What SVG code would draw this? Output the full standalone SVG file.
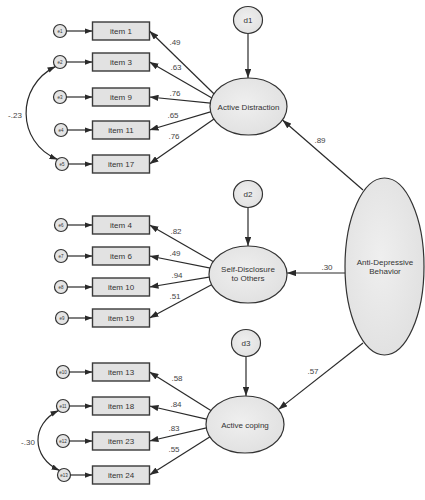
<svg xmlns="http://www.w3.org/2000/svg" width="425" height="500" viewBox="0 0 425 500">
<defs>
<marker id="ah" viewBox="0 0 10 7" refX="10" refY="3.5" markerWidth="9" markerHeight="6.5" markerUnits="userSpaceOnUse" orient="auto-start-reverse">
<path d="M0,0 L10,3.5 L0,7 z" fill="#2a2a2a"/>
</marker>
<marker id="ahs" viewBox="0 0 10 7" refX="10" refY="3.5" markerWidth="8" markerHeight="5.5" markerUnits="userSpaceOnUse" orient="auto-start-reverse">
<path d="M0,0 L10,3.5 L0,7 z" fill="#2a2a2a"/>
</marker>
<radialGradient id="g" cx="0.45" cy="0.45" r="0.7">
<stop offset="0" stop-color="#efefef"/>
<stop offset="1" stop-color="#dedede"/>
</radialGradient>
</defs>
<style>
.box{fill:#e2e2e2;stroke:#3a3a3a;stroke-width:1.4}
.lat{fill:url(#g);stroke:#333;stroke-width:1.2}
.err{fill:#e4e4e4;stroke:#333;stroke-width:1.2}
.ln{stroke:#2a2a2a;stroke-width:1.2;fill:none;marker-end:url(#ah)}
.sl{stroke:#2a2a2a;stroke-width:1.2;fill:none;marker-end:url(#ahs)}
.cv{stroke:#2a2a2a;stroke-width:1.2;fill:none;marker-start:url(#ahs);marker-end:url(#ahs)}
text{font-family:"Liberation Sans",Arial,sans-serif;fill:#333;text-anchor:middle}
.t{font-size:8px}
.e{font-size:4.5px}
.c{font-size:8px;fill:#444}
</style>
<rect width="425" height="500" fill="#fff"/>
<g id="connectors">
<path class="sl" d="M66.5,31 H92.5"/>
<path class="sl" d="M66.5,62 H92.5"/>
<path class="sl" d="M66.5,97 H92.5"/>
<path class="sl" d="M67.5,130 H92.5"/>
<path class="sl" d="M68.5,164 H92.5"/>
<path class="sl" d="M67.5,225 H92.5"/>
<path class="sl" d="M67.5,256 H92.5"/>
<path class="sl" d="M67.5,287 H92.5"/>
<path class="sl" d="M68.5,318 H92.5"/>
<path class="sl" d="M69.5,372 H92.5"/>
<path class="sl" d="M69.5,406 H92.5"/>
<path class="sl" d="M69.5,441 H92.5"/>
<path class="sl" d="M70.5,475 H92.5"/>
<path class="ln" d="M219,98.8 L149.5,31"/>
<path class="ln" d="M218,101.6 L149.5,62"/>
<path class="ln" d="M218,103.8 L149.5,97"/>
<path class="ln" d="M218,109.6 L149.5,130"/>
<path class="ln" d="M219,115.4 L149.5,164"/>
<path class="ln" d="M220,265.6 L149.5,225"/>
<path class="ln" d="M218,269.6 L149.5,256"/>
<path class="ln" d="M218,275.7 L149.5,287"/>
<path class="ln" d="M219,280.7 L149.5,318"/>
<path class="ln" d="M218,415 L149.5,372"/>
<path class="ln" d="M214,420.8 L149.5,406"/>
<path class="ln" d="M214,426.2 L149.5,441"/>
<path class="ln" d="M216,433 L149.5,475"/>
<path class="ln" d="M248,33.5 V78"/>
<path class="ln" d="M248,207.5 V246"/>
<path class="ln" d="M246,356.5 V396"/>
<path class="ln" d="M363,190 L282.5,120"/>
<path class="ln" d="M345,273 H287"/>
<path class="ln" d="M363,343 L278.5,409.4"/>
<path class="cv" d="M55.4,66.6 C16,86 16,142 57.4,159.4"/>
<path class="cv" d="M58.4,410.6 C31,424 31,457 59.4,470.4"/>
<text class="c" x="175" y="45">.49</text>
<text class="c" x="176" y="70">.63</text>
<text class="c" x="175" y="96">.76</text>
<text class="c" x="173" y="118">.65</text>
<text class="c" x="174" y="139">.76</text>
<text class="c" x="176" y="234">.82</text>
<text class="c" x="175" y="256">.49</text>
<text class="c" x="177" y="278">.94</text>
<text class="c" x="175" y="299">.51</text>
<text class="c" x="177" y="381">.58</text>
<text class="c" x="176" y="407">.84</text>
<text class="c" x="174" y="431">.83</text>
<text class="c" x="174" y="452">.55</text>
<text class="c" x="320" y="143">.89</text>
<text class="c" x="327" y="270">.30</text>
<text class="c" x="313" y="374">.57</text>
<text class="c" x="15" y="118">-.23</text>
<text class="c" x="28" y="445">-.30</text>
</g>
<g id="item1"><rect class="box" x="92.5" y="22" width="57" height="18"/><text class="t" x="121" y="34">item 1</text></g>
<g id="item3"><rect class="box" x="92.5" y="53" width="57" height="18"/><text class="t" x="121" y="65">item 3</text></g>
<g id="item9"><rect class="box" x="92.5" y="88" width="57" height="18"/><text class="t" x="121" y="100">item 9</text></g>
<g id="item11"><rect class="box" x="92.5" y="121" width="57" height="18"/><text class="t" x="121" y="133">item 11</text></g>
<g id="item17"><rect class="box" x="92.5" y="155" width="57" height="18"/><text class="t" x="121" y="167">item 17</text></g>
<g id="item4"><rect class="box" x="92.5" y="216" width="57" height="18"/><text class="t" x="121" y="228">item 4</text></g>
<g id="item6"><rect class="box" x="92.5" y="247" width="57" height="18"/><text class="t" x="121" y="259">item 6</text></g>
<g id="item10"><rect class="box" x="92.5" y="278" width="57" height="18"/><text class="t" x="121" y="290">item 10</text></g>
<g id="item19"><rect class="box" x="92.5" y="309" width="57" height="18"/><text class="t" x="121" y="321">item 19</text></g>
<g id="item13"><rect class="box" x="92.5" y="363" width="57" height="18"/><text class="t" x="121" y="375">item 13</text></g>
<g id="item18"><rect class="box" x="92.5" y="397" width="57" height="18"/><text class="t" x="121" y="409">item 18</text></g>
<g id="item23"><rect class="box" x="92.5" y="432" width="57" height="18"/><text class="t" x="121" y="444">item 23</text></g>
<g id="item24"><rect class="box" x="92.5" y="466" width="57" height="18"/><text class="t" x="121" y="478">item 24</text></g>
<g id="e1"><circle class="err" cx="60" cy="31" r="6.5"/><text class="e" x="60" y="32.6">e1</text></g>
<g id="e2"><circle class="err" cx="60" cy="62" r="6.5"/><text class="e" x="60" y="63.6">e2</text></g>
<g id="e3"><circle class="err" cx="60" cy="97" r="6.5"/><text class="e" x="60" y="98.6">e3</text></g>
<g id="e4"><circle class="err" cx="61" cy="130" r="6.5"/><text class="e" x="61" y="131.6">e4</text></g>
<g id="e5"><circle class="err" cx="62" cy="164" r="6.5"/><text class="e" x="62" y="165.6">e5</text></g>
<g id="e6"><circle class="err" cx="61" cy="225" r="6.5"/><text class="e" x="61" y="226.6">e6</text></g>
<g id="e7"><circle class="err" cx="61" cy="256" r="6.5"/><text class="e" x="61" y="257.6">e7</text></g>
<g id="e8"><circle class="err" cx="61" cy="287" r="6.5"/><text class="e" x="61" y="288.6">e8</text></g>
<g id="e9"><circle class="err" cx="62" cy="318" r="6.5"/><text class="e" x="62" y="319.6">e9</text></g>
<g id="e10"><circle class="err" cx="63" cy="372" r="6.5"/><text class="e" x="63" y="373.6">e10</text></g>
<g id="e11"><circle class="err" cx="63" cy="406" r="6.5"/><text class="e" x="63" y="407.6">e11</text></g>
<g id="e12"><circle class="err" cx="63" cy="441" r="6.5"/><text class="e" x="63" y="442.6">e12</text></g>
<g id="e13"><circle class="err" cx="64" cy="475" r="6.5"/><text class="e" x="64" y="476.6">e13</text></g>
<g id="d1"><ellipse class="lat" cx="248" cy="20" rx="14.5" ry="13.5"/><text class="t" x="248" y="23">d1</text></g>
<g id="d2"><ellipse class="lat" cx="248" cy="194" rx="14.5" ry="13.5"/><text class="t" x="248" y="197">d2</text></g>
<g id="d3"><ellipse class="lat" cx="246" cy="343" rx="14.5" ry="13.5"/><text class="t" x="246" y="346">d3</text></g>
<g id="active-distraction"><ellipse class="lat" cx="248.5" cy="106.5" rx="38.5" ry="28.5"/><text class="t" x="248.5" y="109.5">Active Distraction</text></g>
<g id="self-disclosure"><ellipse class="lat" cx="248" cy="274.5" rx="39" ry="28.5"/><text class="t" x="248" y="272">Self-Disclosure</text><text class="t" x="248" y="281">to Others</text></g>
<g id="active-coping"><ellipse class="lat" cx="245" cy="424.5" rx="39" ry="28.5"/><text class="t" x="245" y="427.5">Active coping</text></g>
<g id="anti-depressive"><ellipse class="lat" cx="384.5" cy="266.5" rx="39.5" ry="88.5"/><text class="t" x="385" y="265">Anti-Depressive</text><text class="t" x="385" y="274">Behavior</text></g>
</svg>
